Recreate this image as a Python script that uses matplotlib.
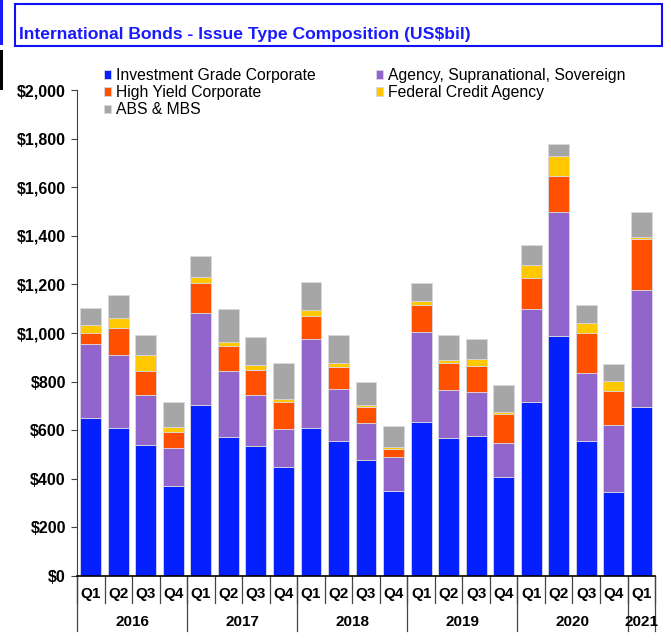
import matplotlib
matplotlib.use("Agg")
import matplotlib.pyplot as plt
from matplotlib.patches import Rectangle
from matplotlib.ticker import FuncFormatter
import numpy as np

plt.rcParams['font.family'] = ['Liberation Sans', 'DejaVu Sans']

quarters = ["Q1", "Q2", "Q3", "Q4"] * 5 + ["Q1"]
years = ["2016", "2017", "2018", "2019", "2020", "2021"]
year_counts = [4, 4, 4, 4, 4, 1]

# US$bil
inv_grade = [649, 608, 539, 372, 702, 572, 535, 450, 608, 555, 477, 350,
             633, 568, 576, 408, 715, 986, 555, 346, 695]
agency = [304, 301, 204, 156, 380, 272, 208, 154, 367, 215, 153, 141,
          371, 198, 182, 140, 384, 514, 282, 276, 480]
high_yield = [48, 110, 101, 64, 125, 101, 106, 114, 93, 90, 65, 31,
              113, 109, 105, 118, 129, 146, 161, 140, 213]
fed_credit = [34, 41, 67, 23, 22, 18, 19, 12, 27, 15, 9, 9,
              13, 14, 31, 8, 53, 84, 44, 39, 7]
abs_mbs = [67, 96, 81, 102, 87, 135, 115, 147, 114, 117, 96, 87,
           75, 103, 81, 112, 80, 48, 75, 72, 102]

series = [
    ("Investment Grade Corporate", inv_grade, "#0520FF"),
    ("Agency, Supranational, Sovereign", agency, "#9265CC"),
    ("High Yield Corporate", high_yield, "#FF5000"),
    ("Federal Credit Agency", fed_credit, "#FFC800"),
    ("ABS & MBS", abs_mbs, "#A6A6A6"),
]

fig = plt.figure(figsize=(6.71, 6.42), dpi=100)
ax = fig.add_axes([0.1148, 0.1028, 0.8614, 0.757])

x = np.arange(len(quarters))
bottom = np.zeros(len(quarters))
handles = {}
for name, vals, col in series:
    b = ax.bar(x, vals, 0.76, bottom=bottom, color=col,
               edgecolor="#d8d8e0", linewidth=0.6, label=name)
    handles[name] = b
    bottom += np.array(vals)

ax.set_xlim(-0.5, len(quarters) - 0.5)
ax.set_ylim(0, 2000)
ax.set_yticks(np.arange(0, 2001, 200))
ax.yaxis.set_major_formatter(FuncFormatter(lambda v, p: "${:,.0f}".format(v)))
for lbl in ax.get_yticklabels():
    lbl.set_fontweight("bold")
    lbl.set_fontsize(11.5)
ax.tick_params(axis="y", length=4, width=0.8, color="#404040", pad=4)
ax.set_xticks([])
for s in ["top", "right"]:
    ax.spines[s].set_visible(False)
ax.spines["left"].set_color("#404040")
ax.spines["bottom"].set_color("black")
ax.spines["bottom"].set_linewidth(1.2)

trans = ax.get_xaxis_transform()
sep_col = "#444444"
# quarter labels and separators
for i, q in enumerate(quarters):
    ax.text(i, -0.037, q, transform=trans, ha="center", va="center",
            fontsize=11, fontweight="bold")
for i in range(len(quarters) + 1):
    ax.plot([i - 0.5, i - 0.5], [0, -0.055], transform=trans, color=sep_col,
            lw=0.9, clip_on=False)
# year labels and separators
start = 0
for yr, n in zip(years, year_counts):
    ax.text(start + n / 2 - 0.5, -0.094, yr, transform=trans, ha="center",
            va="center", fontsize=11, fontweight="bold")
    ax.plot([start - 0.5, start - 0.5], [0, -0.113], transform=trans,
            color=sep_col, lw=0.9, clip_on=False)
    start += n
ax.plot([start - 0.5, start - 0.5], [0, -0.113], transform=trans,
        color=sep_col, lw=0.9, clip_on=False)

leg_kw = dict(loc="upper left", ncol=1, frameon=False, fontsize=11.3,
              handlelength=0.45, handleheight=0.45, handletextpad=0.3,
              labelspacing=0.14, borderaxespad=0, borderpad=0)
col1 = ["Investment Grade Corporate", "High Yield Corporate", "ABS & MBS"]
col2 = ["Agency, Supranational, Sovereign", "Federal Credit Agency"]
fig.legend([handles[n] for n in col1], col1,
           bbox_to_anchor=(104 / 671, 1 - 68 / 642), **leg_kw)
fig.legend([handles[n] for n in col2], col2,
           bbox_to_anchor=(376 / 671, 1 - 68 / 642), **leg_kw)

# title box
fig.add_artist(Rectangle((15 / 671, 1 - 46 / 642), 647 / 671, 42 / 642,
                         transform=fig.transFigure, fill=False,
                         edgecolor="#1010f5", lw=1.5))
fig.text(19 / 671, 1 - 34 / 642, "International Bonds - Issue Type Composition (US$bil)",
         color="#1a1aff", fontsize=12.6, fontweight="bold", va="center", ha="left")
# page-edge marks on the left
fig.add_artist(Rectangle((0, 1 - 45 / 642), 3 / 671, 45 / 642,
                         transform=fig.transFigure, color="#1a1aff", lw=0))
fig.add_artist(Rectangle((0, 1 - 90 / 642), 3 / 671, 40 / 642,
                         transform=fig.transFigure, color="black", lw=0))

fig.savefig("out.png", dpi=100)
